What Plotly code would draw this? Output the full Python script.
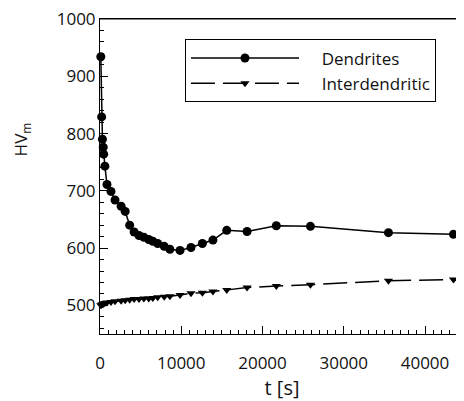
import plotly.graph_objects as go

t_s = [100, 200, 300, 400, 450, 600, 860, 1350, 1850, 2600, 3100, 3650, 4200, 4800,
       5400, 6000, 6500, 7100, 7900, 8600, 9850, 11200, 12600, 13900, 15600, 18100,
       21700, 25900, 35500, 43500]
dendrites = [934, 829, 790, 776, 764, 743, 711, 699, 684, 673, 664, 640, 628, 622,
             619, 615, 612, 608, 603, 598, 596, 601, 608, 614, 631, 629,
             639, 638, 627, 624]
interdendritic = [500, 501, 502, 503, 503, 504, 505, 506, 507, 508, 509, 510, 511, 511,
                  512, 512, 513, 514, 515, 516, 518, 521, 522, 524, 527, 531,
                  534, 536, 543, 545]

x_ticks = [0, 10000, 20000, 30000, 40000]
y_ticks = [500, 600, 700, 800, 900, 1000]

FONT = "Open Sans"
PAD = "\u00a0" * 4

fig = go.Figure()
fig.add_trace(go.Scatter(
    x=t_s, y=dendrites, name=PAD + "Dendrites", mode="lines+markers",
    line=dict(color="black", width=1.5),
    marker=dict(symbol="circle", size=9, color="black"),
    cliponaxis=False,
))
fig.add_trace(go.Scatter(
    x=t_s, y=interdendritic, name=PAD + "Interdendritic", mode="lines+markers",
    line=dict(color="black", width=1.5, dash="24px,8px"),
    marker=dict(symbol="triangle-down", size=8, color="black"),
    cliponaxis=False,
))

fig.update_layout(
    width=456, height=393,
    margin=dict(l=92, r=0, t=11, b=67),
    paper_bgcolor="white", plot_bgcolor="white",
    font=dict(family=FONT, size=17, color="#111"),
    showlegend=True,
    legend=dict(
        x=0.2335, y=0.935, xanchor="left", yanchor="top",
        bordercolor="black", borderwidth=1, bgcolor="white",
        itemwidth=108, font=dict(size=17, color="#111"), tracegroupgap=0,
    ),
    xaxis=dict(
        range=[0, 44800], tickvals=x_ticks, tickformat="d", ticks="inside",
        ticklen=8, tickwidth=1, tickcolor="black", showline=True,
        linecolor="black", linewidth=1, mirror=True, showgrid=False,
        zeroline=False, automargin=False, ticklabelstandoff=14,
        ticklabeloverflow="allow", tickfont=dict(color="#111"),
        minor=dict(dtick=1000, ticks="inside", ticklen=4, tickcolor="black", showgrid=False),
        title=dict(text="t [s]", standoff=25, font=dict(color="#111")),
    ),
    yaxis=dict(
        range=[450, 1000], tickvals=y_ticks, ticks="inside", ticklen=8, tickwidth=1,
        tickcolor="black", showline=True, linecolor="black", linewidth=1,
        showgrid=False, zeroline=False, automargin=False, ticklabelstandoff=0,
        ticklabeloverflow="allow", tickfont=dict(color="#111"),
        minor=dict(dtick=20, ticks="inside", ticklen=4, tickcolor="black", showgrid=False),
    ),
    shapes=[dict(type="line", xref="paper", yref="paper", x0=0, x1=1, y0=1, y1=1,
                 line=dict(color="black", width=1))],
    annotations=[dict(
        text="HV<sub>m</sub>", textangle=-90, xref="paper", yref="paper",
        x=-0.215, y=0.617, xanchor="center", yanchor="middle", showarrow=False,
        font=dict(size=17, color="#111"),
    )],
)

fig.write_html("out.html")
